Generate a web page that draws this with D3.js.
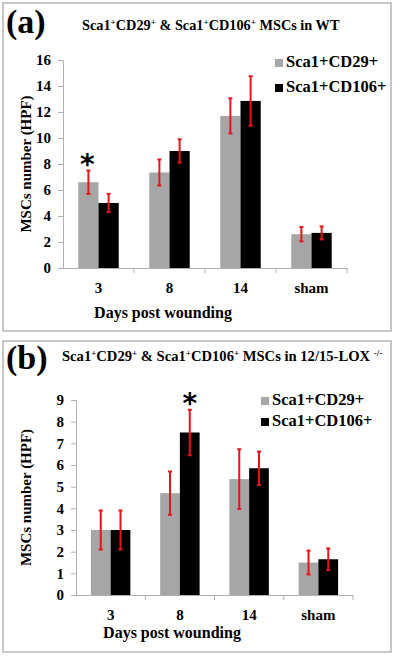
<!DOCTYPE html>
<html><head><meta charset="utf-8">
<script src="https://cdn.jsdelivr.net/npm/d3@7"></script>
<style>
body{margin:0;background:#fff;}
svg{display:block;font-family:"Liberation Serif","Times New Roman",serif;font-weight:bold;}
</style></head>
<body>
<svg id="c" width="400" height="657"></svg>
<script>
const categories = ["3", "8", "14", "sham"];
const seriesNames = ["Sca1+CD29+", "Sca1+CD106+"];
const seriesColors = ["#a6a6a6", "#000000"];

const wtCD29 = [6.6, 7.35, 11.7, 2.6];
const wtCD29Err = [0.9, 1.0, 1.35, 0.55];
const wtCD106 = [5.0, 9.0, 12.85, 2.7];
const wtCD106Err = [0.7, 0.9, 1.9, 0.5];
const wtTicks = [0, 2, 4, 6, 8, 10, 12, 14, 16];

const loxCD29 = [3.0, 4.7, 5.35, 1.5];
const loxCD29Err = [0.9, 1.0, 1.38, 0.55];
const loxCD106 = [3.0, 7.5, 5.85, 1.65];
const loxCD106Err = [0.9, 1.05, 0.77, 0.5];
const loxTicks = [0, 1, 2, 3, 4, 5, 6, 7, 8, 9];

const svg = d3.select("#c");
const serif = "'Liberation Serif','Times New Roman',serif";

function panel(o) {
  const g = svg.append("g");
  g.append("rect").attr("x", o.box[0]).attr("y", o.box[1]).attr("width", o.box[2]).attr("height", o.box[3])
    .attr("fill", "none").attr("stroke", "#b4b4b4").attr("stroke-width", 1.5);
  g.append("text").attr("x", o.letterX).attr("y", o.letterY).attr("font-size", 34).text(o.letter);
  const t = g.append("text").attr("x", o.titleX).attr("y", o.titleY).attr("font-size", o.titleSize);
  o.title.forEach(p => {
    const s = t.append("tspan").text(p.t);
    if (p.sup) s.attr("font-size", 9).attr("dy", -5); else if (p.after) s.attr("dy", 5);
  });

  const y = d3.scaleLinear().domain([0, o.max]).range([o.y0, o.y1]);
  const x = d3.scaleBand().domain(categories).range([o.x0, o.x1]).paddingInner(0.43).paddingOuter(0.215);
  const xs = d3.scaleBand().domain([0, 1]).range([0, x.bandwidth()]);

  const ya = g.append("g").attr("transform", `translate(${o.x0},0)`)
    .call(d3.axisLeft(y).tickValues(o.ticks).tickSize(5).tickPadding(7).tickFormat(d3.format("d")))
    .attr("font-family", serif).attr("font-size", 15);
  ya.selectAll("path,line").attr("stroke", "#b0b0b0");
  ya.selectAll("text").attr("fill", "#000");

  const xa = g.append("g").attr("transform", `translate(0,${o.y0})`)
    .call(d3.axisBottom(x).tickSizeOuter(0).tickSize(0).tickPadding(14))
    .attr("font-family", serif).attr("font-size", 15);
  xa.selectAll("path").attr("stroke", "#b0b0b0");
  xa.selectAll("text").attr("fill", "#000");
  const bounds = d3.range(categories.length + 1).map(i => o.x0 + i * (o.x1 - o.x0) / categories.length);
  g.selectAll(".bt").data(bounds.slice(1)).enter().append("line")
    .attr("x1", d => d).attr("x2", d => d).attr("y1", o.y0).attr("y2", o.y0 + 5).attr("stroke", "#b0b0b0");

  const series = [[o.a, o.aErr], [o.b, o.bErr]];
  series.forEach(([vals, errs], si) => {
    g.selectAll(null).data(vals).enter().append("rect")
      .attr("x", (d, i) => x(categories[i]) + xs(si))
      .attr("y", d => y(d)).attr("width", xs.bandwidth()).attr("height", d => o.y0 - y(d))
      .attr("fill", seriesColors[si]);
  });
  series.forEach(([vals, errs], si) => {
    vals.forEach((v, i) => {
      const cx = x(categories[i]) + xs(si) + xs.bandwidth() / 2;
      const e = errs[i];
      g.append("line").attr("x1", cx).attr("x2", cx).attr("y1", y(v + e)).attr("y2", y(v - e))
        .attr("stroke", "#e8141c").attr("stroke-width", 2);
      [v + e, v - e].forEach(w => g.append("line").attr("x1", cx - 2).attr("x2", cx + 2)
        .attr("y1", y(w)).attr("y2", y(w)).attr("stroke", "#e8141c").attr("stroke-width", 2));
    });
  });
  const si = o.star[1], ci = o.star[0];
  const vals = si === 0 ? o.a : o.b, errs = si === 0 ? o.aErr : o.bErr;
  g.append("text").attr("x", x(categories[ci]) + xs(si) + xs.bandwidth() / 2 + o.starDx)
    .attr("y", y(vals[ci] + errs[ci]) + 3).attr("text-anchor", "middle").attr("font-size", 28)
    .attr("font-family", "DejaVu Sans").attr("font-weight", "bold").text("*");

  g.append("text").attr("transform", `translate(${o.ytX},${(o.y0 + o.y1) / 2 + o.ytDy}) rotate(-90)`)
    .attr("text-anchor", "middle").attr("font-size", 15).text("MSCs number (HPF)");
  g.append("text").attr("x", o.xtX).attr("y", o.xtY).attr("text-anchor", "middle").attr("font-size", 16)
    .text("Days post wounding");

  seriesNames.forEach((n, i) => {
    g.append("rect").attr("x", o.legX).attr("y", o.legY + i * o.legDy - 7).attr("width", 8).attr("height", 8)
      .attr("fill", seriesColors[i]);
    g.append("text").attr("x", o.legX + 11).attr("y", o.legY + i * o.legDy + 1).attr("font-size", 16.5).text(n);
  });
}

panel({
  box: [3, 3, 388, 328], letter: "(a)", letterX: 6, letterY: 33,
  title: [{t: "Sca1"}, {t: "+", sup: true}, {t: "CD29", after: true}, {t: "+", sup: true}, {t: " & Sca1", after: true},
          {t: "+", sup: true}, {t: "CD106", after: true}, {t: "+", sup: true}, {t: " MSCs in WT", after: true}],
  titleX: 82, titleY: 30, titleSize: 14.3,
  max: 16, ticks: wtTicks, y0: 268, y1: 60, x0: 63, x1: 347,
  a: wtCD29, aErr: wtCD29Err, b: wtCD106, bErr: wtCD106Err, star: [0, 0], starDx: -1,
  ytX: 31, ytDy: 0, xtX: 163, xtY: 318,
  legX: 275, legY: 66, legDy: 25
});

panel({
  box: [3, 341, 388, 311], letter: "(b)", letterX: 6, letterY: 369,
  title: [{t: "Sca1"}, {t: "+", sup: true}, {t: "CD29", after: true}, {t: "+", sup: true}, {t: " & Sca1", after: true},
          {t: "+", sup: true}, {t: "CD106", after: true}, {t: "+", sup: true}, {t: " MSCs in 12/15-LOX ", after: true},
          {t: "-/-", sup: true}],
  titleX: 62, titleY: 361, titleSize: 14.6,
  max: 9, ticks: loxTicks, y0: 595, y1: 400, x0: 76, x1: 353,
  a: loxCD29, aErr: loxCD29Err, b: loxCD106, bErr: loxCD106Err, star: [1, 1], starDx: 0,
  ytX: 31, ytDy: 0, xtX: 172, xtY: 638,
  legX: 261, legY: 404, legDy: 21
});
</script>
</body></html>
